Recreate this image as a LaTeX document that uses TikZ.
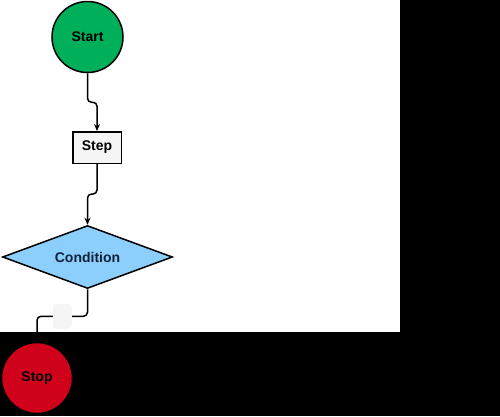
\documentclass[tikz,border=0pt]{standalone}
\usepackage{fontspec}
\setmainfont{Liberation Sans}
\usepackage{tikz}
\usetikzlibrary{shapes.geometric,arrows.meta,calc}
\definecolor{startgreen}{HTML}{00AF5A}
\definecolor{stopred}{HTML}{D0021B}
\definecolor{condblue}{HTML}{8CCFFC}
\definecolor{stepgray}{HTML}{F5F5F5}
\definecolor{condtext}{HTML}{10203A}
\tikzstyle{terminal}=[circle,draw=black,line width=1.5pt,minimum size=71pt,inner sep=0pt,font=\bfseries\fontsize{14}{16}\selectfont]
\tikzstyle{process}=[rectangle,draw=black,fill=stepgray,line width=1.5pt,minimum width=48.5pt,minimum height=31.5pt,inner sep=0pt,font=\bfseries\fontsize{14}{16}\selectfont]
\tikzstyle{decision}=[diamond,draw=black,fill=condblue,line width=1.5pt,shape aspect=2.69,minimum width=170pt,minimum height=63pt,inner sep=0pt,text=condtext,font=\bfseries\fontsize{14}{16}\selectfont]
\tikzstyle{flow}=[line width=1.5pt,draw=black,rounded corners=4pt,-{Stealth[length=7pt,width=6pt]}]
\tikzstyle{labelbox}=[fill=stepgray,minimum width=19pt,minimum height=25pt,inner sep=0pt]

\begin{document}
\begin{tikzpicture}[x=1pt,y=-1pt]
          % background
          \fill[black] (0,0) rectangle (500,416);
          \fill[white] (0,0) rectangle (400,332);
          \useasboundingbox (0,0) rectangle (500,416);

          \node[terminal,fill=startgreen] (start) at (87.5,37) {Start};
          \node[process] (step) at (97,147.5) {Step};
          \node[decision] (cond) at (87.5,257) {Condition};
          \node[terminal,fill=stopred] (stop) at (37,378) {Stop};

          \draw[flow] (start.south) -- ++(0,29) -| (step.north);
          \draw[flow] (step.south) -- ++(0,30) -| (cond.north);
          \draw[flow] (cond.south) -- ++(0,27) -| node[pos=0.25,labelbox] (condlabel) {} (stop.north);
        \end{tikzpicture}
\end{document}
